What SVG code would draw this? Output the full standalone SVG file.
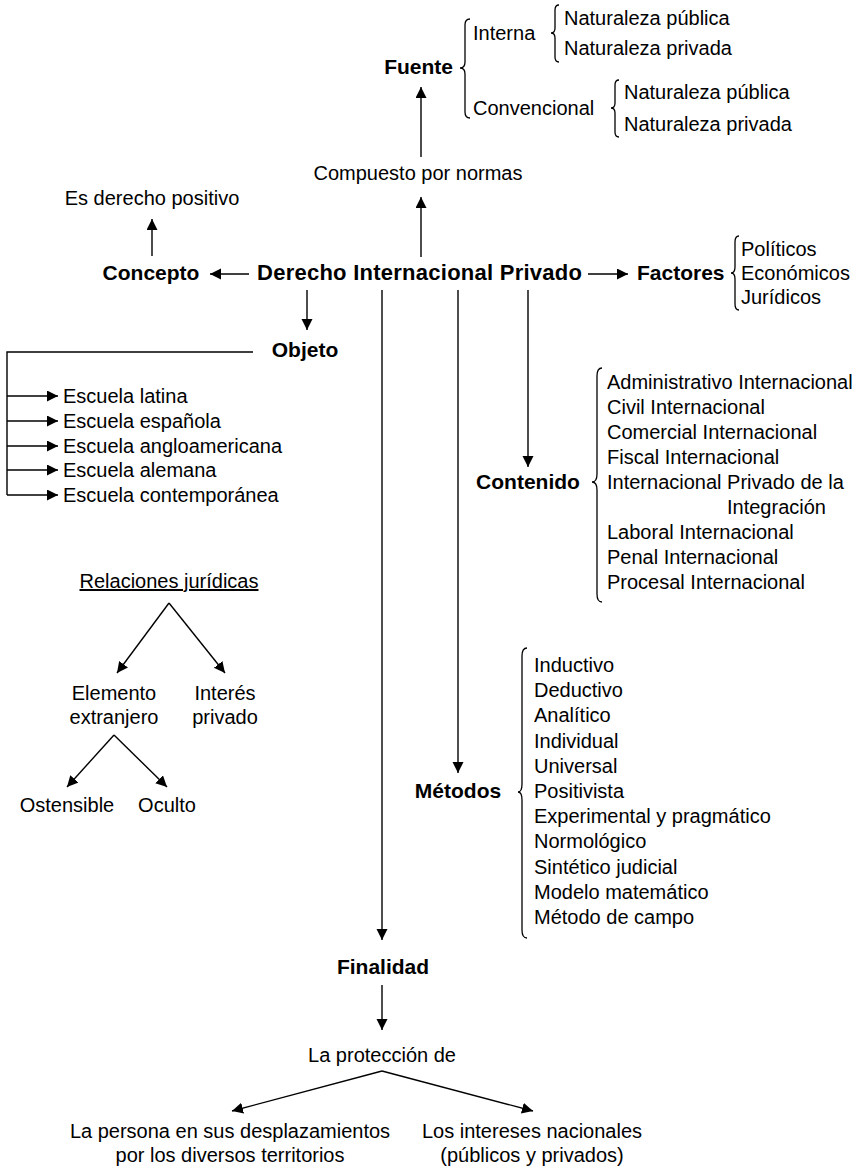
<svg xmlns="http://www.w3.org/2000/svg" width="858" height="1169" viewBox="0 0 858 1169">
<defs>
<style>
text{font-family:"Liberation Sans",Arial,sans-serif;font-size:20px;fill:#000}
.b{font-weight:bold;font-size:21px}
.m{text-anchor:middle}
.e{text-anchor:end}
.ln{stroke:#000;stroke-width:1.4;fill:none}
.ar{stroke:#000;stroke-width:1.4;fill:none;marker-end:url(#ah)}
.br{stroke:#000;stroke-width:1.3;fill:none}
</style>
<marker id="ah" markerUnits="userSpaceOnUse" markerWidth="12" markerHeight="12" refX="11" refY="5.5" orient="auto">
<path d="M0,0 L11,5.5 L0,11 z" fill="#000"/>
</marker>
</defs>
<rect width="858" height="1169" fill="#fff"/>

<g id="connectors">
<line class="ar" x1="421" y1="157" x2="421" y2="87"/>
<line class="ar" x1="421" y1="257" x2="421" y2="197"/>
<line class="ar" x1="152" y1="256" x2="152" y2="219"/>
<line class="ar" x1="249" y1="274" x2="210" y2="274"/>
<line class="ar" x1="588" y1="274" x2="628" y2="274"/>
<line class="ar" x1="307" y1="290" x2="307" y2="330"/>
<line class="ar" x1="382" y1="290" x2="382" y2="940"/>
<line class="ar" x1="458" y1="290" x2="458" y2="773"/>
<line class="ar" x1="528" y1="290" x2="528" y2="467"/>
<polyline class="ln" points="253,352 7,352 7,495"/>
<line class="ar" x1="7" y1="396" x2="58" y2="396"/>
<line class="ar" x1="7" y1="421" x2="58" y2="421"/>
<line class="ar" x1="7" y1="446" x2="58" y2="446"/>
<line class="ar" x1="7" y1="470" x2="58" y2="470"/>
<line class="ar" x1="7" y1="495" x2="58" y2="495"/>
<line class="ar" x1="169" y1="603" x2="117" y2="673"/>
<line class="ar" x1="169" y1="603" x2="225" y2="673"/>
<line class="ar" x1="114" y1="735" x2="67" y2="787"/>
<line class="ar" x1="114" y1="735" x2="167" y2="787"/>
<line class="ar" x1="382" y1="985" x2="382" y2="1030"/>
<line class="ar" x1="382" y1="1071" x2="232" y2="1111"/>
<line class="ar" x1="382" y1="1071" x2="533" y2="1111"/>
</g>

<g id="fuente">
<text class="b e" x="453" y="74">Fuente</text>
<path class="br" d="M470,19 Q465,19 465,25 L465,62 Q465,68 460,68 Q465,68 465,74 L465,112 Q465,118 470,118"/>
<text x="473" y="40">Interna</text>
<path class="br" d="M559,5 Q555,5 555,10 L555,28 Q555,33 551,33 Q555,33 555,38 L555,57 Q555,62 559,62"/>
<text x="564" y="25">Naturaleza pública</text>
<text x="564" y="55">Naturaleza privada</text>
<text x="473" y="115">Convencional</text>
<path class="br" d="M619,80 Q615,80 615,85 L615,103 Q615,108 611,108 Q615,108 615,113 L615,132 Q615,137 619,137"/>
<text x="624" y="99">Naturaleza pública</text>
<text x="624" y="131">Naturaleza privada</text>
</g>

<g id="compuesto">
<text class="m" x="418" y="180">Compuesto por normas</text>
</g>

<g id="positivo">
<text class="m" x="152" y="205">Es derecho positivo</text>
</g>

<g id="concepto">
<text class="b m" x="151" y="280">Concepto</text>
</g>

<g id="dip">
<text class="b" x="257" y="280" style="font-size:22px" textLength="325" lengthAdjust="spacing">Derecho Internacional Privado</text>
</g>

<g id="factores">
<text class="b" x="637" y="280">Factores</text>
<path class="br" d="M739,236 Q735,236 735,242 L735,267 Q735,273 731,273 Q735,273 735,279 L735,304 Q735,310 739,310"/>
<text x="741" y="256">Políticos</text>
<text x="741" y="280">Económicos</text>
<text x="741" y="304">Jurídicos</text>
</g>

<g id="objeto">
<text class="b m" x="305" y="357">Objeto</text>
<text x="63" y="403">Escuela latina</text>
<text x="63" y="428">Escuela española</text>
<text x="63" y="453">Escuela angloamericana</text>
<text x="63" y="477">Escuela alemana</text>
<text x="63" y="502">Escuela contemporánea</text>
</g>

<g id="contenido">
<text class="b m" x="528" y="489">Contenido</text>
<path class="br" d="M602,368 Q597,368 597,376 L597,474 Q597,482 592,482 Q597,482 597,490 L597,594 Q597,602 602,602"/>
<text x="607" y="389">Administrativo Internacional</text>
<text x="607" y="414">Civil Internacional</text>
<text x="607" y="439">Comercial Internacional</text>
<text x="607" y="464">Fiscal Internacional</text>
<text x="607" y="489">Internacional Privado de la</text>
<text x="727" y="514">Integración</text>
<text x="607" y="539">Laboral Internacional</text>
<text x="607" y="564">Penal Internacional</text>
<text x="607" y="589">Procesal Internacional</text>
</g>

<g id="relaciones">
<text class="m" x="169" y="588" text-decoration="underline">Relaciones jurídicas</text>
<text class="m" x="114" y="700">Elemento</text>
<text class="m" x="114" y="724">extranjero</text>
<text class="m" x="225" y="700">Interés</text>
<text class="m" x="225" y="724">privado</text>
<text class="m" x="67" y="812">Ostensible</text>
<text class="m" x="167" y="812">Oculto</text>
</g>

<g id="metodos">
<text class="b m" x="458" y="798">Métodos</text>
<path class="br" d="M527,648 Q522,648 522,656 L522,784 Q522,792 518,792 Q522,792 522,800 L522,930 Q522,938 527,938"/>
<text x="534" y="672">Inductivo</text>
<text x="534" y="697">Deductivo</text>
<text x="534" y="722">Analítico</text>
<text x="534" y="748">Individual</text>
<text x="534" y="773">Universal</text>
<text x="534" y="798">Positivista</text>
<text x="534" y="823">Experimental y pragmático</text>
<text x="534" y="848">Normológico</text>
<text x="534" y="874">Sintético judicial</text>
<text x="534" y="899">Modelo matemático</text>
<text x="534" y="924">Método de campo</text>
</g>

<g id="finalidad">
<text class="b m" x="383" y="974">Finalidad</text>
<text class="m" x="382" y="1062">La protección de</text>
<text class="m" x="230" y="1138">La persona en sus desplazamientos</text>
<text class="m" x="230" y="1162">por los diversos territorios</text>
<text class="m" x="532" y="1138">Los intereses nacionales</text>
<text class="m" x="532" y="1162">(públicos y privados)</text>
</g>
</svg>
